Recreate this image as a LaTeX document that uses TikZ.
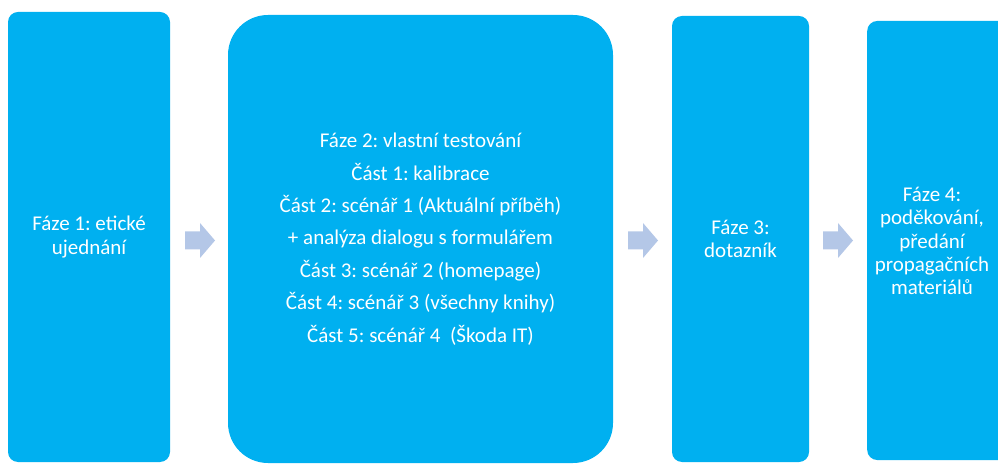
\documentclass[tikz,border=0pt]{standalone}
\usepackage{fontspec}
\setmainfont{Carlito}
\frenchspacing
\definecolor{boxblue}{HTML}{00B0F0}
\definecolor{arrowblue}{HTML}{B4C7E7}
\begin{document}
\begin{tikzpicture}[x=1pt,y=1pt,
  phase/.style={fill=boxblue, draw=none, rounded corners=10pt, text=white, align=center,
    inner sep=0pt, font=\fontsize{21}{23.3}\selectfont},
  bigphase/.style={phase, rounded corners=40pt, font=\fontsize{21}{32.4}\selectfont},
  pics/harrow/.style={code={
    \fill[arrowblue] (-15,-9) -- (0,-9) -- (0,-17.5) -- (15,0) -- (0,17.5) -- (0,9) -- (-15,9) -- cycle;}}
]
\useasboundingbox (0,0) rectangle (998,463);
\begin{scope}
\clip (0,0) rectangle (998,463);
\node[phase, minimum width=162pt, minimum height=450pt] (p1) at (89,226)
  {Fáze 1: etické\\ujednání};
\node[bigphase, minimum width=385pt, minimum height=448pt] (p2) at (420.5,224)
  {Fáze 2: vlastní testování\\Část 1: kalibrace\\Část 2: scénář 1 (Aktuální příběh)\\+ analýza dialogu s formulářem\\Část 3: scénář 2 (homepage)\\Část 4: scénář 3 (všechny knihy)\\Část 5: scénář 4~~(Škoda IT)};
\node[phase, minimum width=137pt, minimum height=446pt] (p3) at (740.5,224)
  {Fáze 3:\\dotazník};
\node[phase, minimum width=145pt, minimum height=439pt, anchor=west] (p4) at (867,222.5) {};
\node[text=white, align=center, inner sep=0pt, font=\fontsize{21}{23.3}\selectfont] (t4) at (932,222)
  {Fáze 4:\\poděkování,\\předání\\propagačních\\materiálů};
\pic (a1) at (200,222.5) {harrow};
\pic (a2) at (643,222.5) {harrow};
\pic (a3) at (838,222.5) {harrow};
\end{scope}
\end{tikzpicture}
\end{document}
